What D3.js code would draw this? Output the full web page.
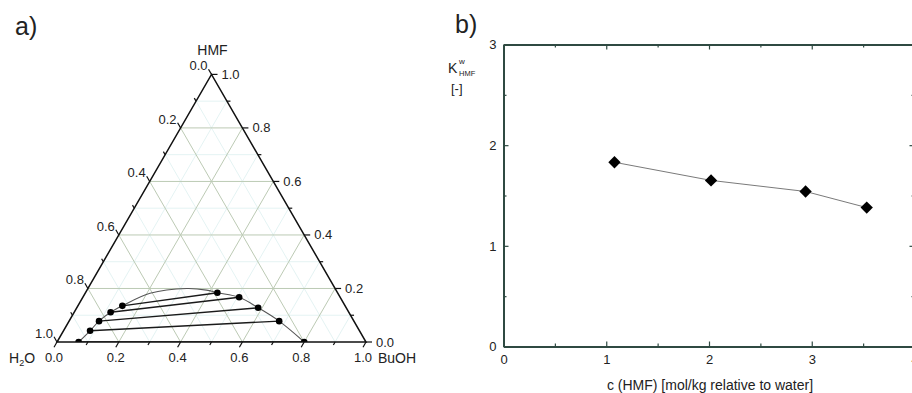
<!DOCTYPE html>
<html>
<head>
<meta charset="utf-8">
<script src="https://cdn.jsdelivr.net/npm/d3@7"></script>
<style>
  body { margin: 0; background: #fff; }
  svg { display: block; font-family: Arial, "Liberation Sans", sans-serif; }
</style>
</head>
<body>
<svg id="chart" width="912" height="393"></svg>
<script>
// a) ternary diagram, mass fractions
const aqBuoh = [0.07, 0.086, 0.097, 0.118, 0.144];
const aqHmf = [0.0, 0.042, 0.078, 0.111, 0.135];
const orgBuoh = [0.80, 0.680, 0.587, 0.506, 0.427];
const orgHmf = [0.0, 0.078, 0.128, 0.167, 0.184];
// top of the binodal curve between the two branches
const capBuoh = [0.21, 0.32, 0.387];
const capHmf = [0.182, 0.2, 0.194];
const ternLabels = ['0.0', '0.2', '0.4', '0.6', '0.8', '1.0'];

// b) partition coefficient vs. HMF concentration
const cHmf = [1.08, 2.02, 2.94, 3.535];
const kHmf = [1.83, 1.65, 1.54, 1.38];
const xTicks = [0, 1, 2, 3, 4];
const yTicks = [0, 1, 2, 3];

const svg = d3.select('#chart');
const textColor = '#222';

// ---------- a) ----------
const side = 309;
const bx = d3.scaleLinear().domain([0, 1]).range([57, 57 + side]);
const hy = d3.scaleLinear().domain([0, 1]).range([342, 342 - side * Math.sqrt(3) / 2]);
const proj = (b, h) => [bx(b + h / 2), hy(h)];

const tern = svg.append('g');

const gridLines = [];
d3.range(1, 10).forEach(i => {
  const v = i / 10;
  const major = i % 2 === 0;
  gridLines.push({ major, a: proj(0, v), b: proj(1 - v, v) });
  gridLines.push({ major, a: proj(v, 0), b: proj(v, 1 - v) });
  gridLines.push({ major, a: proj(1 - v, 0), b: proj(0, 1 - v) });
});
gridLines.sort((p, q) => p.major - q.major);

tern.append('g')
  .selectAll('line')
  .data(gridLines)
  .join('line')
  .attr('x1', d => d.a[0])
  .attr('y1', d => d.a[1])
  .attr('x2', d => d.b[0])
  .attr('y2', d => d.b[1])
  .attr('stroke', d => d.major ? '#bccab4' : '#e4f3f3')
  .attr('stroke-width', 1);

// data layer, clipped to the triangle
const corners = [proj(0, 0), proj(1, 0), proj(0, 1)];
svg.append('clipPath')
  .attr('id', 'tri')
  .append('path')
  .attr('d', 'M' + corners.join('L') + 'Z');

const dataLayer = tern.append('g').attr('clip-path', 'url(#tri)');

const curvePts = aqBuoh.map((b, i) => proj(b, aqHmf[i]))
  .concat(capBuoh.map((b, i) => proj(b, capHmf[i])))
  .concat(orgBuoh.map((b, i) => proj(b, orgHmf[i])).reverse());

dataLayer.append('path')
  .attr('d', d3.line().curve(d3.curveCatmullRom.alpha(0.5))(curvePts))
  .attr('fill', 'none')
  .attr('stroke', '#555')
  .attr('stroke-width', 1.1);

dataLayer.append('g')
  .selectAll('line')
  .data(aqBuoh.map((b, i) => i))
  .join('line')
  .attr('x1', i => proj(aqBuoh[i], aqHmf[i])[0])
  .attr('y1', i => proj(aqBuoh[i], aqHmf[i])[1])
  .attr('x2', i => proj(orgBuoh[i], orgHmf[i])[0])
  .attr('y2', i => proj(orgBuoh[i], orgHmf[i])[1])
  .attr('stroke', '#1a1a1a')
  .attr('stroke-width', 1.4);

const allPts = aqBuoh.map((b, i) => proj(b, aqHmf[i]))
  .concat(orgBuoh.map((b, i) => proj(b, orgHmf[i])));
dataLayer.append('g')
  .selectAll('circle')
  .data(allPts)
  .join('circle')
  .attr('cx', d => d[0])
  .attr('cy', d => d[1])
  .attr('r', 3.3)
  .attr('fill', '#000');

// triangle frame
tern.append('path')
  .attr('d', 'M' + corners.join('L') + 'Z')
  .attr('fill', 'none')
  .attr('stroke', '#111')
  .attr('stroke-width', 1.5);

// ticks and labels of the three axes
const ternAxes = [
  { pt: v => proj(v, 0), dir: [-0.5, 0.866], lx: -3, ly: 20, anchor: 'middle' },     // BuOH
  { pt: v => proj(0, 1 - v), dir: [-0.5, -0.866], lx: -4, ly: -4, anchor: 'end' },   // H2O
  { pt: v => proj(1 - v, v), dir: [1, 0], lx: 10, ly: 4.5, anchor: 'start' }         // HMF
];

ternAxes.forEach(ax => {
  const g = tern.append('g');
  const vals = d3.range(0, 11).map(i => ({ v: i / 10, major: i % 2 === 0 }));
  g.selectAll('line')
    .data(vals)
    .join('line')
    .attr('x1', d => ax.pt(d.v)[0])
    .attr('y1', d => ax.pt(d.v)[1])
    .attr('x2', d => ax.pt(d.v)[0] + ax.dir[0] * (d.major ? 6 : 3.5))
    .attr('y2', d => ax.pt(d.v)[1] + ax.dir[1] * (d.major ? 6 : 3.5))
    .attr('stroke', '#111')
    .attr('stroke-width', 1.2);
  g.selectAll('text')
    .data(ternLabels)
    .join('text')
    .attr('x', d => ax.pt(+d)[0] + ax.lx)
    .attr('y', d => ax.pt(+d)[1] + ax.ly)
    .attr('text-anchor', ax.anchor)
    .attr('font-size', 13)
    .attr('fill', textColor)
    .text(d => d);
});

tern.append('text')
  .attr('x', proj(0, 1)[0] + 1)
  .attr('y', 55)
  .attr('text-anchor', 'middle')
  .attr('font-size', 14)
  .attr('fill', textColor)
  .text('HMF');

const h2o = tern.append('text')
  .attr('x', 9)
  .attr('y', 363)
  .attr('font-size', 14)
  .attr('fill', textColor);
h2o.append('tspan').text('H');
h2o.append('tspan').attr('font-size', 9).attr('dy', 3).text('2');
h2o.append('tspan').attr('dy', -3).text('O');

tern.append('text')
  .attr('x', 378)
  .attr('y', 363)
  .attr('font-size', 14)
  .attr('fill', textColor)
  .text('BuOH');

svg.append('text')
  .attr('x', 15)
  .attr('y', 35)
  .attr('font-size', 25)
  .attr('fill', textColor)
  .text('a)');

// ---------- b) ----------
const x = d3.scaleLinear().domain([0, 4]).range([503.5, 914.5]);
const y = d3.scaleLinear().domain([0, 3]).range([346.5, 44.5]);
const frameColor = '#2f4a42';

const plot = svg.append('g');
const xMinor = [0.5, 1.5, 2.5, 3.5];
const yMinor = [0.5, 1.5, 2.5];

function styleAxis(g) {
  g.select('.domain').attr('stroke', frameColor).attr('stroke-width', 2);
  g.selectAll('.tick line').attr('stroke', frameColor).attr('stroke-width', 1.2);
  g.selectAll('.tick text').attr('font-size', 13).attr('fill', textColor).attr('font-family', null);
}

plot.append('g')
  .attr('transform', `translate(0,${y(0)})`)
  .call(d3.axisBottom(x).tickValues(xTicks).tickFormat(d3.format('d')).tickSize(-5).tickSizeOuter(0).tickPadding(8))
  .call(styleAxis);
plot.append('g')
  .attr('transform', `translate(0,${y(0)})`)
  .call(d3.axisBottom(x).tickValues(xMinor).tickFormat('').tickSize(-3).tickSizeOuter(0))
  .call(g => g.select('.domain').remove())
  .call(styleAxis);

plot.append('g')
  .attr('transform', `translate(0,${y(3)})`)
  .call(d3.axisTop(x).tickValues(xTicks).tickFormat('').tickSize(-5).tickSizeOuter(0))
  .call(styleAxis);
plot.append('g')
  .attr('transform', `translate(0,${y(3)})`)
  .call(d3.axisTop(x).tickValues(xMinor).tickFormat('').tickSize(-3).tickSizeOuter(0))
  .call(g => g.select('.domain').remove())
  .call(styleAxis);

plot.append('g')
  .attr('transform', `translate(${x(0)},0)`)
  .call(d3.axisLeft(y).tickValues(yTicks).tickFormat(d3.format('d')).tickSize(-5).tickSizeOuter(0).tickPadding(7))
  .call(styleAxis);
plot.append('g')
  .attr('transform', `translate(${x(0)},0)`)
  .call(d3.axisLeft(y).tickValues(yMinor).tickFormat('').tickSize(-3).tickSizeOuter(0))
  .call(g => g.select('.domain').remove())
  .call(styleAxis);

plot.append('g')
  .attr('transform', `translate(${x(4)},0)`)
  .call(d3.axisRight(y).tickValues(yTicks).tickFormat('').tickSize(-5).tickSizeOuter(0))
  .call(styleAxis);
plot.append('g')
  .attr('transform', `translate(${x(4)},0)`)
  .call(d3.axisRight(y).tickValues(yMinor).tickFormat('').tickSize(-3).tickSizeOuter(0))
  .call(g => g.select('.domain').remove())
  .call(styleAxis);

plot.append('path')
  .datum(cHmf.map((c, i) => [c, kHmf[i]]))
  .attr('d', d3.line().x(d => x(d[0])).y(d => y(d[1])))
  .attr('fill', 'none')
  .attr('stroke', '#7a7a7a')
  .attr('stroke-width', 1);

plot.append('g')
  .selectAll('path')
  .data(cHmf.map((c, i) => [c, kHmf[i]]))
  .join('path')
  .attr('transform', d => `translate(${x(d[0])},${y(d[1])}) rotate(45)`)
  .attr('d', d3.symbol(d3.symbolSquare, 76))
  .attr('fill', '#000');

plot.append('text')
  .attr('x', 710)
  .attr('y', 390)
  .attr('text-anchor', 'middle')
  .attr('font-size', 14)
  .attr('fill', textColor)
  .text('c (HMF) [mol/kg relative to water]');

// y label K^w_HMF [-]
const ylab = plot.append('g').attr('fill', textColor);
ylab.append('text').attr('x', 448).attr('y', 73).attr('font-size', 14).text('K');
ylab.append('text').attr('x', 459).attr('y', 64).attr('font-size', 8).text('w');
ylab.append('text').attr('x', 459).attr('y', 76).attr('font-size', 7.5).text('HMF');
ylab.append('text').attr('x', 451).attr('y', 93).attr('font-size', 13).text('[-]');

svg.append('text')
  .attr('x', 455)
  .attr('y', 33)
  .attr('font-size', 25)
  .attr('fill', textColor)
  .text('b)');
</script>
</body>
</html>
